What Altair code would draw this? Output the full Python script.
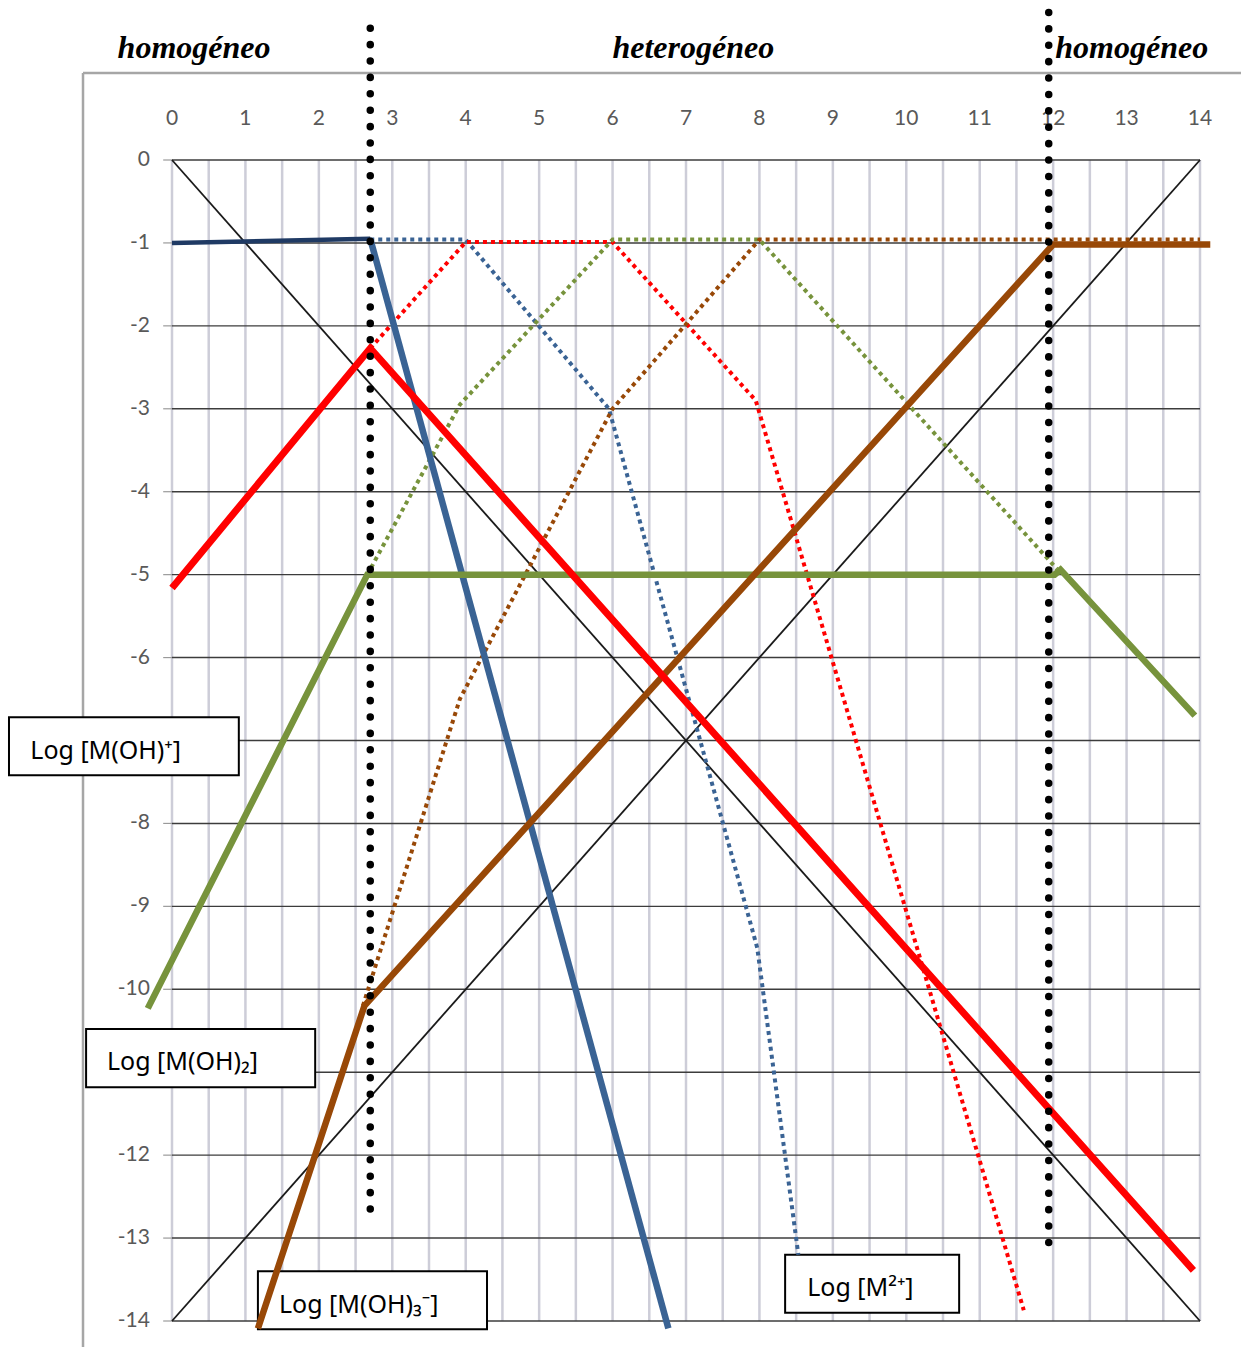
import altair as alt
import pandas as pd

# ---------------------------------------------------------------- data
# axis ticks and grid (the -7 and -11 labels sit under the species boxes)
PH_TICKS = list(range(0, 15))
LOG_TICKS = list(range(0, -15, -1))
LOG_LABELS = [v for v in LOG_TICKS if v not in (-7, -11)]
PH_GRID = [i * 0.5 for i in range(0, 29)]

# log[H+] and log[OH-]
H_PH, H_LOG = [0, 14], [0, -14]
OH_PH, OH_LOG = [0, 14], [-14, 0]

# M2+
M_FLAT_PH, M_FLAT_LOG = [0.00, 2.70], [-1.00, -0.95]
M_SOLID_PH, M_SOLID_LOG = [2.70, 6.76], [-0.95, -14.09]
M_DOT_PH = [2.70, 4.00, 5.95, 7.97, 8.53]
M_DOT_LOG = [-0.96, -0.96, -3.00, -9.50, -13.20]

# M(OH)+
MOH_SOLID_PH = [0.00, 2.70, 13.91]
MOH_SOLID_LOG = [-5.16, -2.27, -13.39]
MOH_DOT_PH = [2.70, 4.00, 6.00, 7.95, 11.60]
MOH_DOT_LOG = [-2.27, -0.99, -0.99, -2.90, -13.87]

# M(OH)2
MOH2_SOLID_PH = [-0.33, 2.66, 12.02, 12.10, 13.93]
MOH2_SOLID_LOG = [-10.23, -5.00, -5.00, -4.94, -6.70]
MOH2_DOT_PH = [2.66, 3.92, 6.00, 8.00, 12.05]
MOH2_DOT_LOG = [-5.00, -2.95, -0.96, -0.96, -4.93]

# M(OH)3-
MOH3_SOLID_PH = [1.17, 2.62, 12.00, 14.14]
MOH3_SOLID_LOG = [-14.09, -10.20, -1.02, -1.02]
MOH3_DOT_PH = [2.60, 3.92, 6.00, 8.00, 14.00]
MOH3_DOT_LOG = [-10.20, -6.50, -3.00, -0.96, -0.96]

# region boundaries (pH) and their vertical extent
BOUNDARY_PH = [2.70, 11.94]
BOUNDARY_TOP = [1.59, 1.78]
BOUNDARY_BOTTOM = [-12.76, -13.14]

REGION_LABELS = ["homogéneo", "heterogéneo", "homogéneo"]
SPECIES_LABELS = ["Log [M(OH)⁺]", "Log [M(OH)₂]", "Log [M(OH)₃⁻]", "Log [M²⁺]"]

# ---------------------------------------------------------------- layout
PLOT_W, PLOT_H = 1028, 1161
XS = alt.Scale(domain=[0, 14], nice=False, zero=False)
YS = alt.Scale(domain=[-14, 0], nice=False, zero=False)

REGION_X = [0.30, 7.10, 13.07]
REGION_Y = 1.23

BOX_X1 = [-2.22, -1.17, 1.17, 8.35]
BOX_X2 = [0.91, 1.95, 4.29, 10.72]
BOX_Y1 = [-6.72, -10.48, -13.40, -13.20]
BOX_Y2 = [-7.42, -11.18, -14.10, -13.90]
BOX_TX = [-1.93, -0.885, 1.457, 8.65]
BOX_TY = [-7.22, -10.97, -13.90, -13.70]

FRAME_X, FRAME_Y = -1.212, 1.049


def X(field):
    return alt.X(field, type="quantitative", scale=XS, axis=None)


def Y(field):
    return alt.Y(field, type="quantitative", scale=YS, axis=None)


def path(ph, lg, color, width, dash=None):
    df = pd.DataFrame({"ph": ph, "log": lg, "i": list(range(len(ph)))})
    kw = dict(color=color, strokeWidth=width, strokeCap="butt", strokeJoin="miter")
    if dash:
        kw["strokeDash"] = dash
    return alt.Chart(df).mark_line(**kw).encode(x=X("ph"), y=Y("log"), order="i:Q")


# ---------------------------------------------------------------- frame & grid
frame = alt.Chart(pd.DataFrame({
    "x": [FRAME_X, FRAME_X], "x2": [14.56, FRAME_X],
    "y": [FRAME_Y, FRAME_Y], "y2": [FRAME_Y, -14.4],
})).mark_rule(color="#a6a6a6", strokeWidth=2.5).encode(
    x=X("x"), x2="x2", y=Y("y"), y2="y2")

vgrid = alt.Chart(pd.DataFrame({"x": PH_GRID, "y": 0.0, "y2": -14.0})).mark_rule(
    color="#cdcdd8", strokeWidth=2.5).encode(x=X("x"), y=Y("y"), y2="y2")

hgrid = alt.Chart(pd.DataFrame({"y": LOG_TICKS, "x": 0.0, "x2": 14.0})).mark_rule(
    color="#3c3c3c", strokeWidth=1.4).encode(y=Y("y"), x=X("x"), x2="x2")

yticks = alt.Chart(pd.DataFrame({"y": LOG_TICKS, "x": -0.12, "x2": 0.0})).mark_rule(
    color="#9a9a9a", strokeWidth=1.2).encode(y=Y("y"), x=X("x"), x2="x2")

xlabels = alt.Chart(pd.DataFrame({"x": PH_TICKS, "y": 0.50,
                                  "t": [str(v) for v in PH_TICKS]})).mark_text(
    font="Lato", fontSize=21, color="#595959", align="center", baseline="middle"
).encode(x=X("x"), y=Y("y"), text="t:N")

ylabels = alt.Chart(pd.DataFrame({"y": LOG_LABELS, "x": -0.30,
                                  "t": [str(v) for v in LOG_LABELS]})).mark_text(
    font="Lato", fontSize=21, color="#595959", align="right", baseline="middle"
).encode(x=X("x"), y=Y("y"), text="t:N")

titles = alt.Chart(pd.DataFrame({"x": REGION_X, "y": REGION_Y,
                                 "t": REGION_LABELS})).mark_text(
    font="Liberation Serif", fontSize=32, fontStyle="italic", fontWeight="bold",
    color="black", align="center", baseline="alphabetic"
).encode(x=X("x"), y=Y("y"), text="t:N")

boxes = alt.Chart(pd.DataFrame({"x": BOX_X1, "x2": BOX_X2,
                                "y": BOX_Y1, "y2": BOX_Y2})).mark_rect(
    fill="white", stroke="black", strokeWidth=2).encode(
    x=X("x"), x2="x2", y=Y("y"), y2="y2")

box_text = alt.Chart(pd.DataFrame({"x": BOX_TX, "y": BOX_TY,
                                   "t": SPECIES_LABELS})).mark_text(
    font="Noto Sans", fontSize=25, color="black", align="left", baseline="alphabetic"
).encode(x=X("x"), y=Y("y"), text="t:N")

# ---------------------------------------------------------------- curves
BLUE_DARK, BLUE = "#1F3A64", "#3A6394"
RED, GREEN, BROWN = "#FF0000", "#77933C", "#984807"
DOT = [4, 4]

curves = [
    path(H_PH, H_LOG, "#1a1a1a", 1.8),
    path(OH_PH, OH_LOG, "#1a1a1a", 1.8),
    path(M_DOT_PH, M_DOT_LOG, BLUE, 4, DOT),
    path(MOH_DOT_PH, MOH_DOT_LOG, RED, 4, DOT),
    path(MOH2_DOT_PH, MOH2_DOT_LOG, GREEN, 4, DOT),
    path(MOH3_DOT_PH, MOH3_DOT_LOG, BROWN, 4, DOT),
    path(M_FLAT_PH, M_FLAT_LOG, BLUE_DARK, 4.5),
    path(M_SOLID_PH, M_SOLID_LOG, BLUE, 6.5),
    path(MOH2_SOLID_PH, MOH2_SOLID_LOG, GREEN, 6.5),
    path(MOH3_SOLID_PH, MOH3_SOLID_LOG, BROWN, 6.5),
    path(MOH_SOLID_PH, MOH_SOLID_LOG, RED, 7),
]

boundaries = alt.Chart(pd.DataFrame({"x": BOUNDARY_PH, "y": BOUNDARY_TOP,
                                     "y2": BOUNDARY_BOTTOM})).mark_rule(
    color="black", strokeWidth=7.5, strokeCap="round", strokeDash=[0.1, 16.3]
).encode(x=X("x"), y=Y("y"), y2="y2")

chart = alt.layer(
    frame, vgrid, hgrid, yticks, xlabels, ylabels, titles, boxes, box_text,
    *curves, boundaries,
).properties(
    width=PLOT_W, height=PLOT_H,
    autosize=alt.AutoSizeParams(type="none"),
    padding={"left": 172, "top": 160, "right": 41, "bottom": 26},
    background="white",
).configure_view(stroke=None)

chart.save("out.html", embed_options={"renderer": "svg", "actions": False})
